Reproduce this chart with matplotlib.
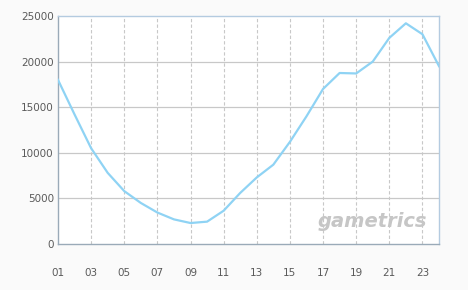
import matplotlib
matplotlib.use("Agg")
import matplotlib.pyplot as plt

hours = list(range(1, 25))
values = [18000, 14200, 10500, 7800, 5800, 4500, 3450, 2700, 2300, 2450,
          3650, 5600, 7300, 8700, 11200, 14000, 17000, 18750, 18700, 20000,
          22600, 24200, 23000, 19500]
xtick_labels = ["01", "03", "05", "07", "09", "11", "13", "15", "17", "19", "21", "23"]
xtick_pos = [1, 3, 5, 7, 9, 11, 13, 15, 17, 19, 21, 23]
yticks = [0, 5000, 10000, 15000, 20000, 25000]

fig = plt.figure(figsize=(4.68, 2.9), dpi=100, facecolor="#fafafa")
ax = fig.add_axes([58/468, 46/290, (439-58)/468, (244-16)/290])
ax.set_facecolor("#ffffff")

ax.plot(hours, values, color="#8fd3f4", lw=1.6, solid_joinstyle="round", zorder=3)

ax.set_xlim(1, 24)
ax.set_ylim(0, 25000)
ax.set_yticks(yticks)
ax.set_yticklabels([str(v) for v in yticks])
ax.set_xticks(xtick_pos)
ax.set_xticklabels(xtick_labels)

for y in yticks[1:-1]:
    ax.axhline(y, color="#c8c8c8", lw=0.9, zorder=1)
for x in xtick_pos[1:]:
    ax.axvline(x, color="#c8c8c8", lw=0.8, ls=(0, (3, 2)), zorder=1)

ax.tick_params(axis="both", length=0, labelsize=7.5, labelcolor="#5a5a5a")
ax.tick_params(axis="x", pad=17)
ax.tick_params(axis="y", pad=3)

for s in ["left", "bottom"]:
    ax.spines[s].set_color("#9aaab8")
    ax.spines[s].set_linewidth(1.0)
for s in ["top", "right"]:
    ax.spines[s].set_color("#b4cbe0")
    ax.spines[s].set_linewidth(1.0)

ax.text(0.97, 0.055, "gametrics", transform=ax.transAxes, ha="right", va="bottom",
        fontsize=14, fontweight="bold", fontstyle="italic", color="#c6c6c6", zorder=2)

fig.savefig("out.png", dpi=100, facecolor=fig.get_facecolor())
